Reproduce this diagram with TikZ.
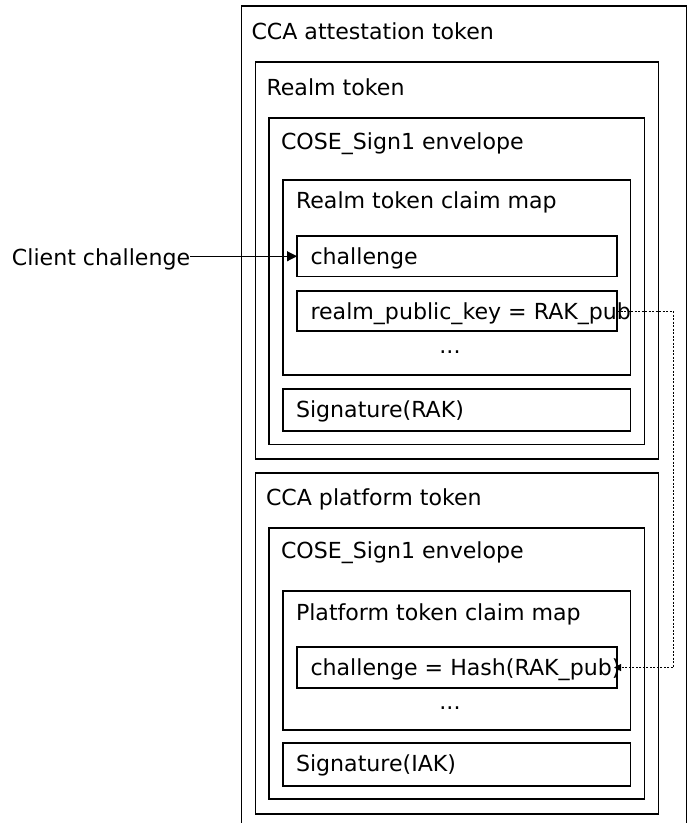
\documentclass[tikz,border=0pt]{standalone}
\usepackage{fontspec}
\setmainfont{DejaVu Sans}
\usetikzlibrary{arrows.meta}
\begin{document}
\begin{tikzpicture}[x=1pt,y=-1pt,
  box/.style={draw=black, line width=1.1pt, anchor=north west, inner sep=0pt, outer sep=0pt},
  lbl/.style={anchor=base west, inner sep=0pt, outer sep=0pt, font=\fontsize{22.1pt}{26pt}\selectfont},
  dots/.style={anchor=base, inner sep=0pt, font=\fontsize{22.1pt}{26pt}\selectfont},
  solidarrow/.style={line width=1.1pt, -{Triangle[length=10pt,width=10pt]}},
  dottedarrow/.style={line width=1pt, dash pattern=on 2pt off 1.5pt, -{Triangle[length=7pt,width=7pt]}}]
\useasboundingbox (0,0) rectangle (693,823);
\clip (0,0) rectangle (693,823);
% boxes
\node[box, minimum width=444.8pt, minimum height=840pt] (outer) at (241.7,6) {};
\node[box, minimum width=403pt, minimum height=397pt] (realm) at (255.5,62) {};
\node[box, minimum width=375.5pt, minimum height=326.5pt] (cose1) at (269,118) {};
\node[box, minimum width=347.5pt, minimum height=195pt] (map1) at (283,180) {};
\node[box, minimum width=320pt, minimum height=40.5pt] (chal) at (297,236) {};
\node[box, minimum width=320pt, minimum height=40pt] (rpk) at (297,291) {};
\node[box, minimum width=347.5pt, minimum height=42pt] (sig1) at (283,389) {};
\node[box, minimum width=403pt, minimum height=341pt] (plat) at (255.5,473) {};
\node[box, minimum width=375.5pt, minimum height=271pt] (cose2) at (269,528) {};
\node[box, minimum width=347.5pt, minimum height=139pt] (map2) at (283,591) {};
\node[box, minimum width=320pt, minimum height=41pt] (chal2) at (297,647) {};
\node[box, minimum width=347.5pt, minimum height=43pt] (sig2) at (283,743) {};
% labels
\node[lbl] (t-outer) at (251.5,39) {CCA attestation token};
\node[lbl] (t-realm) at (266.5,95) {Realm token};
\node[lbl] (t-cose1) at (281,149) {COSE\_Sign1 envelope};
\node[lbl] (t-map1) at (296,208) {Realm token claim map};
\node[lbl] (t-chal) at (310.5,264) {challenge};
\node[lbl] (t-rpk) at (310.5,319) {realm\_public\_key = RAK\_pub};
\node[dots] (t-dots1) at (450,353) {...};
\node[lbl] (t-sig1) at (296,417) {Signature(RAK)};
\node[lbl] (t-plat) at (266,505) {CCA platform token};
\node[lbl] (t-cose2) at (281,558) {COSE\_Sign1 envelope};
\node[lbl] (t-map2) at (296,620) {Platform token claim map};
\node[lbl] (t-chal2) at (310.5,675) {challenge = Hash(RAK\_pub)};
\node[dots] (t-dots2) at (450,709) {...};
\node[lbl] (t-sig2) at (296,771) {Signature(IAK)};
\node[lbl] (client) at (12,265) {Client challenge};
% connectors
\draw[solidarrow] (client.east |- chal.west) -- (chal.west);
\draw[dottedarrow, shorten >=-3pt] (rpk.east) -- ++(56,0) |- (chal2.east);
\end{tikzpicture}
\end{document}
